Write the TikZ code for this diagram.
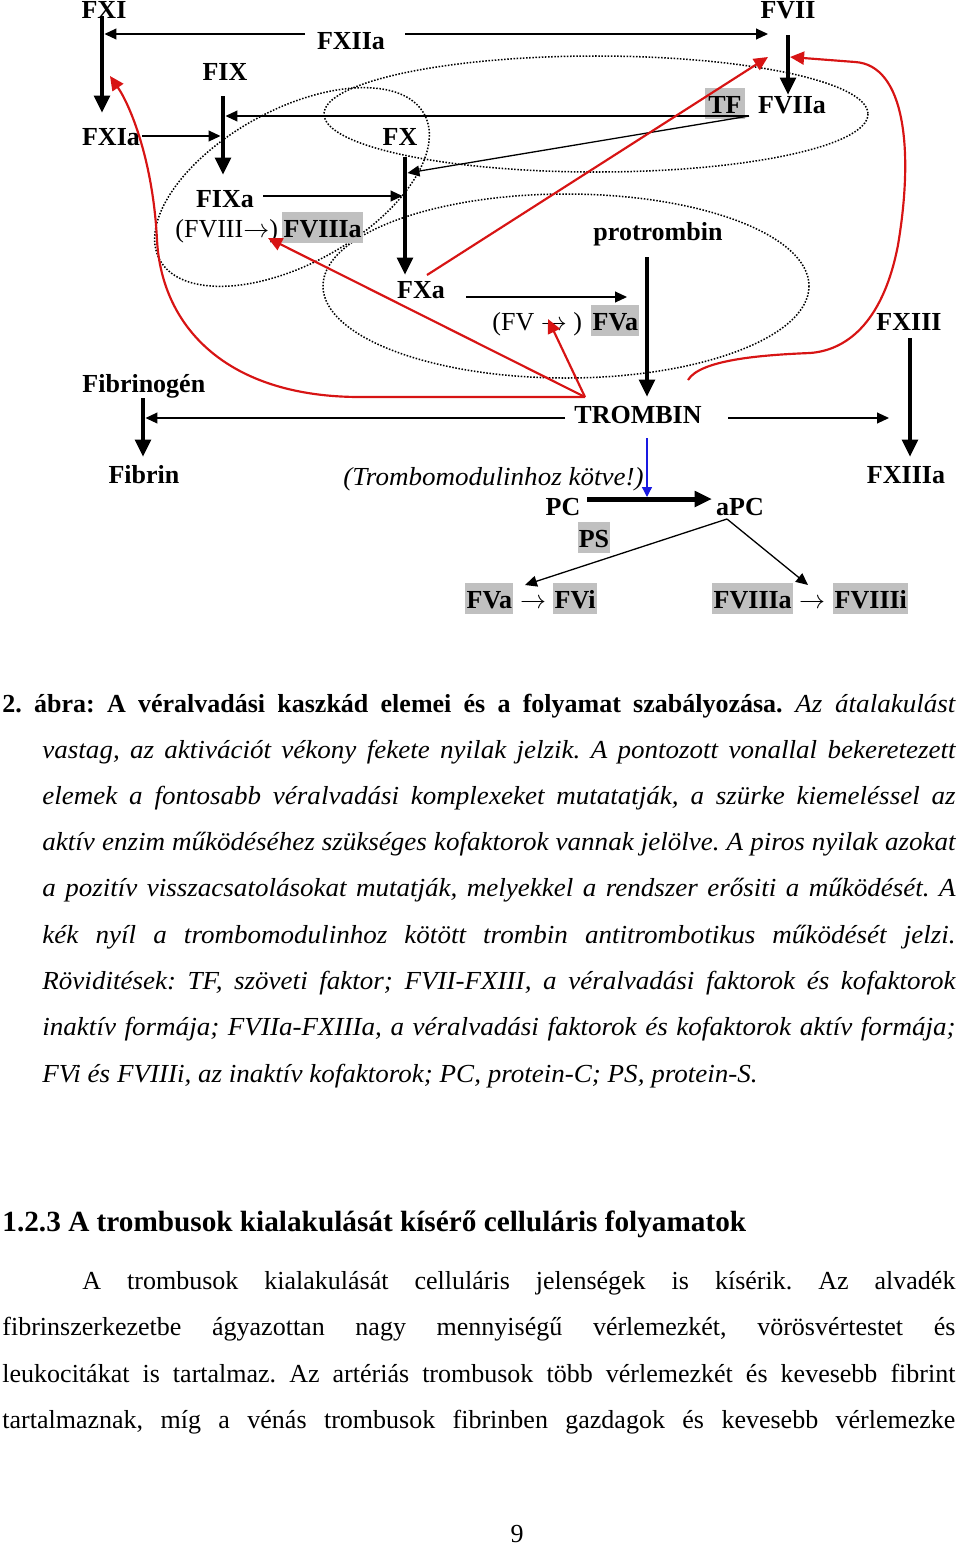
\documentclass[tikz,border=0pt]{standalone}
\usepackage{fontspec}
\setmainfont{Liberation Serif}[ItalicFeatures={FakeStretch=1.04}]
\usetikzlibrary{arrows.meta}
\definecolor{hlgray}{RGB}{192,192,192}
\definecolor{fbred}{RGB}{215,20,20}
\definecolor{tmblue}{RGB}{25,25,225}
\newcommand{\rarr}{$\rightarrow$}
\begin{document}
\frenchspacing
\begin{tikzpicture}[x=0.4615pt,y=-0.4615pt,
  every node/.style={inner sep=0pt, font=\fontsize{12pt}{14pt}\selectfont},
  lbl/.style={font=\fontsize{12pt}{14pt}\selectfont\bfseries, anchor=base},
  txt/.style={anchor=base west},
  itx/.style={anchor=base west, font=\fontsize{12pt}{14pt}\selectfont\itshape},
  hl/.style={fill=hlgray, text height=11.4pt, text depth=2.6pt, inner xsep=0.6pt},
  thk/.style={line width=2.3pt, -{Triangle[length=8pt,width=7pt]}},
  thn/.style={line width=0.6pt, -{Triangle[length=5.5pt,width=5pt]}},
  fb/.style={draw=fbred, line width=1pt, -{Triangle[length=6.5pt,width=6pt]}, fill=none},
  inh/.style={draw=tmblue, line width=0.6pt, -{Triangle[length=4.6pt,width=4.6pt]}},
  cplx/.style={draw, line width=0.7pt, dash pattern=on 0.7pt off 0.75pt}]
\useasboundingbox (0,0) rectangle (960,1545);

% ---------------- complexes (dotted) ----------------
\draw[cplx] (596,114) ellipse [x radius=272, y radius=58];
\draw[cplx, rotate around={28.9:(292,187)}] (292,187) ellipse [x radius=151, y radius=77];
\draw[cplx] (566,286) ellipse [x radius=243, y radius=92];

% ---------------- labels ----------------
\node[lbl] (FXI) at (104,18) {FXI};
\node[lbl] (FXIIa) at (351,49) {FXIIa};
\node[lbl] (FVII) at (788,18) {FVII};
\node[lbl] (FIX) at (225,80) {FIX};
\node[lbl] (FXIa) at (111,145) {FXIa};
\node[lbl] (FX) at (400,145) {FX};
\node[lbl,hl,inner xsep=1.5pt] (TF) at (725,113) {TF};
\node[lbl] (FVIIa) at (792,113) {FVIIa};
\node[lbl] (FIXa) at (225,207) {FIXa};
\node[txt] (FVIII) at (175,237) {(FVIII\rarr)};
\node[lbl,hl,anchor=base west] (FVIIIa) at (282,237) {FVIIIa};
\node[lbl] (protr) at (658,240) {protrombin};
\node[lbl] (FXa) at (421,298) {FXa};
\node[txt] (FV) at (492,330) {(FV \rarr\ )};
\node[lbl,hl,anchor=base west] (FVa) at (591,330) {FVa};
\node[lbl] (FXIII) at (909,330) {FXIII};
\node[lbl,anchor=base west] (Fbg) at (82,392) {Fibrinogén};
\node[lbl] (TROMBIN) at (638,423) {TROMBIN};
\node[lbl] (Fibrin) at (144,483) {Fibrin};
\node[itx] (TM) at (343,485) {(Trombomodulinhoz kötve!)};
\node[lbl] (FXIIIa) at (906,483) {FXIIIa};
\node[lbl] (PC) at (563,515) {PC};
\node[lbl] (aPC) at (740,515) {aPC};
\node[lbl,hl] (PS) at (594,547) {PS};
\node[lbl,hl,anchor=base west] (FVa2) at (465,608) {FVa};
\node[anchor=base] (ar1) at (533,608) {\rarr};
\node[lbl,hl,anchor=base west] (FVi) at (553,608) {FVi};
\node[lbl,hl,anchor=base west] (FVIIIa2) at (712,608) {FVIIIa};
\node[anchor=base] (ar2) at (812,608) {\rarr};
\node[lbl,hl,anchor=base west] (FVIIIi) at (833,608) {FVIIIi};

% ---------------- junction points ----------------
\coordinate (xiA) at (102,16);   \coordinate (xiB) at (102,113);
\coordinate (viiA) at (788,35);  \coordinate (viiB) at (788,95);
\coordinate (ixA) at (223,96);   \coordinate (ixB) at (223,175);
\coordinate (xA) at (405,157);   \coordinate (xB) at (405,275);
\coordinate (prA) at (647,257);  \coordinate (prB) at (647,397);
\coordinate (xiiiA) at (910,338); \coordinate (xiiiB) at (910,457);
\coordinate (fgA) at (143,398);  \coordinate (fgB) at (143,457);
\coordinate (pcA) at (587,499);  \coordinate (pcB) at (712,499);
\coordinate (xiiaL) at (305,34); \coordinate (xiiaR) at (405,34);
\coordinate (onXI) at (104.5,34); \coordinate (toVII) at (768,34);
\coordinate (tfC) at (749,116);
\coordinate (onIXr) at (225.5,116); \coordinate (onIXl) at (220.5,136);
\coordinate (onXr) at (407.5,173);  \coordinate (onXl) at (402.5,196);
\coordinate (xiaE) at (142,136); \coordinate (ixaE) at (263,196);
\coordinate (xaE) at (466,297);  \coordinate (toVa) at (627,297);
\coordinate (trL) at (565,418);  \coordinate (onFg) at (145.5,418);
\coordinate (trR) at (728,418);  \coordinate (toXIII) at (889,418);
\coordinate (apcB) at (727,519);
\coordinate (toFVa) at (525,585); \coordinate (toFVIIIa) at (808,585);
\coordinate (tmA) at (647,438);  \coordinate (tmB) at (647,497);
\coordinate (rfb) at (585,397);  \coordinate (xaR) at (427,275);
\coordinate (rVII) at (768,57);  \coordinate (rVIIr) at (790,57);
\coordinate (rVIII) at (268,238); \coordinate (rV) at (548,319);
\coordinate (rXI) at (110,76);   \coordinate (rXIIIs) at (688,380);

% ---------------- thick (conversion) arrows ----------------
\draw[thk] (xiA) -- (xiB);
\draw[thk] (viiA) -- (viiB);
\draw[thk] (ixA) -- (ixB);
\draw[thk] (xA) -- (xB);
\draw[thk] (prA) -- (prB);
\draw[thk] (xiiiA) -- (xiiiB);
\draw[thk] (fgA) -- (fgB);
\draw[thk] (pcA) -- (pcB);

% ---------------- thin (activation) arrows ----------------
\draw[thn] (xiiaL) -- (onXI);
\draw[thn] (xiiaR) -- (toVII);
\draw[thn] (tfC) -- (onIXr);
\draw[thn] (tfC) -- (onXr);
\draw[thn] (xiaE) -- (onIXl);
\draw[thn] (ixaE) -- (onXl);
\draw[thn] (xaE) -- (toVa);
\draw[thn] (trL) -- (onFg);
\draw[thn] (trR) -- (toXIII);
\draw[thn] (apcB) -- (toFVa);
\draw[thn] (apcB) -- (toFVIIIa);
\draw[inh] (tmA) -- (tmB);

% ---------------- red (positive feedback) arrows ----------------
\draw[fb] (xaR) -- (rVII);
\draw[fb] (rfb) -- (rVIII);
\draw[fb] (rfb) -- (360,397) .. controls (230,397) and (162,330) .. (157,240)
      .. controls (153,160) and (130,105) .. (rXI);
\draw[fb] (rfb) -- (rV);
\draw[fb] (rXIIIs) .. controls (700,360) and (760,355) .. (810,353)
      .. controls (850,350) and (884,318) .. (898,245)
      .. controls (914,150) and (905,65) .. (855,62) -- (rVIIr);

% ---------------- caption ----------------
\node[txt] (cap1) at (2,712) {\makebox[439.8pt][s]{\bfseries 2. ábra: A véralvadási kaszkád elemei és a folyamat szabályozása.\mdseries\itshape\ Az átalakulást}};
\node[itx] (cap2) at (42,758) {\makebox[421.4pt][s]{vastag, az aktivációt vékony fekete nyilak jelzik. A pontozott vonallal bekeretezett}};
\node[itx] (cap3) at (42,804) {\makebox[421.4pt][s]{elemek a fontosabb véralvadási komplexeket mutatatják, a szürke kiemeléssel az}};
\node[itx] (cap4) at (42,850) {\makebox[421.4pt][s]{aktív enzim működéséhez szükséges kofaktorok vannak jelölve. A piros nyilak azokat}};
\node[itx] (cap5) at (42,896) {\makebox[421.4pt][s]{a pozitív visszacsatolásokat mutatják, melyekkel a rendszer erősiti a működését. A}};
\node[itx] (cap6) at (42,943) {\makebox[421.4pt][s]{kék nyíl a trombomodulinhoz kötött trombin antitrombotikus működését jelzi.}};
\node[itx] (cap7) at (42,989) {\makebox[421.4pt][s]{Röviditések: TF, szöveti faktor; FVII-FXIII, a véralvadási faktorok és kofaktorok}};
\node[itx] (cap8) at (42,1035) {\makebox[421.4pt][s]{inaktív formája; FVIIa-FXIIIa, a véralvadási faktorok és kofaktorok aktív formája;}};
\node[itx] (cap9) at (42,1082) {FVi és FVIIIi, az inaktív kofaktorok; PC, protein-C; PS, protein-S.};

% ---------------- section text ----------------
\node[txt,font=\fontsize{13.5pt}{16pt}\selectfont\bfseries] (sec) at (2,1231) {1.2.3 A trombusok kialakulását kísérő celluláris folyamatok};
\node[txt] (p1) at (82,1289) {\makebox[402.9pt][s]{A trombusok kialakulását celluláris jelenségek is kísérik. Az alvadék}};
\node[txt] (p2) at (2,1335) {\makebox[439.8pt][s]{fibrinszerkezetbe ágyazottan nagy mennyiségű vérlemezkét, vörösvértestet és}};
\node[txt] (p3) at (2,1382) {\makebox[439.8pt][s]{leukocitákat is tartalmaz. Az artériás trombusok több vérlemezkét és kevesebb fibrint}};
\node[txt] (p4) at (2,1428) {\makebox[439.8pt][s]{tartalmaznak, míg a vénás trombusok fibrinben gazdagok és kevesebb vérlemezke}};
\node[anchor=base] (pg) at (517,1542) {9};
\end{tikzpicture}
\end{document}
